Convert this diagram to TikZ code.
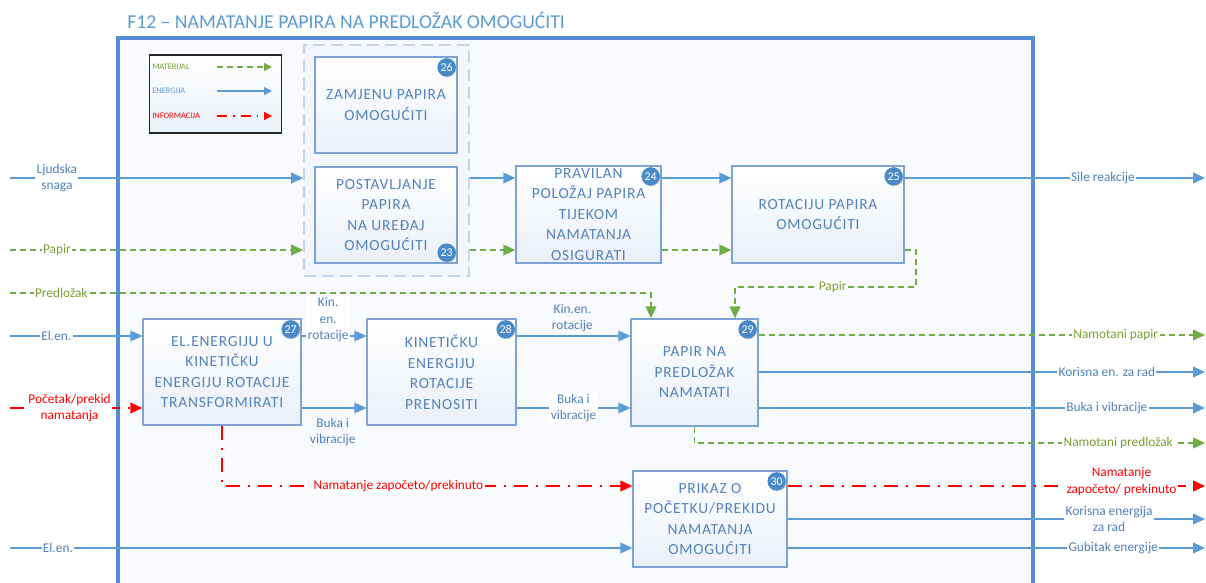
\documentclass[tikz,border=0pt]{standalone}
\usepackage{fontspec}
\setmainfont{Carlito}
\usetikzlibrary{arrows.meta, calc, positioning, shadows}
\definecolor{encol}{RGB}{91, 155, 213}
\definecolor{matcol}{RGB}{112, 173, 71}
\definecolor{infcol}{RGB}{255, 0, 0}
\definecolor{framecol}{RGB}{84, 141, 212}
\definecolor{boxline}{RGB}{124, 163, 212}
\definecolor{boxtext}{RGB}{84, 130, 190}
\definecolor{boxbot}{RGB}{234, 240, 248}
\definecolor{bgcol}{RGB}{248, 250, 253}
\definecolor{grpline}{RGB}{197, 213, 234}
\definecolor{grpfill}{RGB}{243, 246, 251}
\definecolor{badgecol}{RGB}{74, 137, 200}
\definecolor{titlecol}{RGB}{91, 155, 213}
\definecolor{enlbl}{RGB}{79, 129, 189}
\definecolor{matlbl}{RGB}{119, 160, 50}
\tikzset{
  title/.style  = {font=\fontsize{14}{16}\selectfont, text=titlecol,
                   inner sep=0pt},
  frame/.style  = {draw=framecol, line width=2.2pt},
  % Visio sets the function names loosely, hence the letter spacing
  fun/.style    = {draw=boxline, line width=0.9pt, top color=white,
                   bottom color=boxbot, align=center, text=boxtext,
                   font=\fontsize{11}{14.6}\selectfont
                        \addfontfeatures{LetterSpace=5},
                   inner sep=1pt},
  grp/.style    = {draw=grpline, line width=1.2pt,
                   dash pattern=on 3mm off 1.5mm, fill=grpfill},
  badge/.style  = {circle, fill=badgecol, text=white,
                   font=\fontsize{8.5}{9}\selectfont, minimum size=4.6mm,
                   inner sep=0pt,
                   drop shadow={opacity=0.3, shadow xshift=0.4pt,
                                shadow yshift=-0.6pt}},
  % the three kinds of flow, as the legend gives them
  energy/.style   = {draw=encol, line width=1pt,
                     -{Triangle[length=3mm, width=2.7mm]}},
  material/.style = {draw=matcol, line width=1pt,
                     dash pattern=on 1.5mm off 1mm,
                     -{Triangle[length=3mm, width=2.7mm]}},
  info/.style     = {draw=infcol, line width=1pt,
                     dash pattern=on 3.5mm off 2mm on 0.5mm off 2mm,
                     -{Triangle[length=3mm, width=2.7mm]}},
  lbl/.style    = {fill=white, inner sep=1pt, align=center,
                   font=\fontsize{9.5}{11.7}\selectfont},
  elbl/.style   = {lbl, text=enlbl},
  mlbl/.style   = {lbl, text=matlbl},
  ilbl/.style   = {lbl, text=infcol},
  legend/.style = {draw=black!85, line width=1pt, top color=white,
                   bottom color=boxbot, minimum width=3.3cm,
                   minimum height=1.95cm},
  lgtxt/.style  = {anchor=west, inner sep=0pt,
                   font=\fontsize{6}{7}\selectfont},
  lgtip/.style  = {line width=0.8pt, -{Triangle[length=2mm, width=2mm]}},
}

\begin{document}
\begin{tikzpicture}[x=0.025cm, y=-0.025cm]

  \useasboundingbox (0,0) rectangle (1206,583);

  %% ---------------- title and frame ----------------
  \node[title, anchor=west] (title) at (127,20)
       {F12 – NAMATANJE PAPIRA NA PREDLOŽAK OMOGUĆITI};
  \fill[bgcol] (118,38) rectangle (1033,583);
  \draw[frame] (118,583) -- (118,38) -- (1033,38) -- (1033,583);

  %% ---------------- legend ----------------
  \node[legend] (legend) at (215.5,94) {};
  \node[lgtxt, text=matlbl] (lgMat) at (152,67) {MATERIJAL};
  \node[lgtxt, text=encol]  (lgEn)  at (152,91) {ENERGIJA};
  \node[lgtxt, text=infcol] (lgInf) at (152,116) {INFORMACIJA};
  \coordinate (lgMatA) at (217,67);  \coordinate (lgMatB) at (272,67);
  \coordinate (lgEnA)  at (217,91);  \coordinate (lgEnB)  at (272,91);
  \coordinate (lgInfA) at (217,116); \coordinate (lgInfB) at (272,116);
  \draw[material, lgtip] (lgMatA) -- (lgMatB);
  \draw[energy, lgtip]   (lgEnA) -- (lgEnB);
  \draw[info, lgtip, dash pattern=on 2.5mm off 1.5mm on 0.4mm off 1.5mm]
       (lgInfA) -- (lgInfB);

  %% ---------------- functions ----------------
  \node[grp, minimum width=4.125cm, minimum height=5.775cm] (grp)
       at (386.5,160.5) {};
  \node[fun, minimum width=3.55cm, minimum height=2.4cm] (b26)
       at (386,105) {ZAMJENU PAPIRA\\OMOGUĆITI};
  \node[fun, minimum width=3.55cm, minimum height=2.4cm] (b23)
       at (386,215) {POSTAVLJANJE\\PAPIRA\\NA UREĐAJ\\OMOGUĆITI};
  \node[fun, minimum width=3.625cm, minimum height=2.425cm] (b24)
       at (588.5,214.5)
       {PRAVILAN\\POLOŽAJ PAPIRA\\TIJEKOM\\NAMATANJA\\OSIGURATI};
  \node[fun, minimum width=4.3cm, minimum height=2.425cm] (b25)
       at (818,214.5) {ROTACIJU PAPIRA\\OMOGUĆITI};
  \node[fun, minimum width=3.95cm, minimum height=2.65cm] (b27)
       at (222,372)
       {EL.ENERGIJU U\\KINETIČKU\\ENERGIJU ROTACIJE\\TRANSFORMIRATI};
  \node[fun, minimum width=3.725cm, minimum height=2.65cm] (b28)
       at (441.5,372) {KINETIČKU\\ENERGIJU\\ROTACIJE\\PRENOSITI};
  \node[fun, minimum width=3.175cm, minimum height=2.675cm] (b29)
       at (694.5,372.5) {PAPIR NA\\PREDLOŽAK\\NAMATATI};
  \node[fun, minimum width=3.85cm, minimum height=2.4cm] (b30)
       at (710,519)
       {PRIKAZ O\\POČETKU/PREKIDU\\NAMATANJA\\OMOGUĆITI};

  %% ---------------- loose ends ----------------
  \coordinate (inHum)    at (10,178);
  \coordinate (inPap)    at (10,250);
  \coordinate (inPred)   at (10,293);
  \coordinate (inEl)     at (10,336);
  \coordinate (inStart)  at (10,408);
  \coordinate (inElB)    at (10,548);
  \coordinate (outSile)  at (1205,178);
  \coordinate (outPapir) at (1205,335);
  \coordinate (outKor)   at (1205,372);
  \coordinate (outBuka)  at (1205,408);
  \coordinate (outPred)  at (1205,443);
  \coordinate (outInfo)  at (1205,486);
  \coordinate (outKorB)  at (1205,519);
  \coordinate (outGub)   at (1205,548);
  \coordinate (papBend)  at (916,287);
  \coordinate (b29inA)   at ($(b29.north)+(-43.5,0)$);
  \coordinate (b29inB)   at ($(b29.north)+(40.5,0)$);

  %% ---------------- upper row ----------------
  \draw[energy] (inHum) -- (inHum -| grp.west)
       node[elbl, pos=0.16] {Ljudska\\snaga};
  \draw[energy] (grp.east |- inHum) -- (b24.west |- inHum);
  \draw[energy] (b24.east |- inHum) -- (b25.west |- inHum);
  \draw[energy] (b25.east |- inHum) -- (outSile)
       node[elbl, pos=0.66] {Sile reakcije};
  \draw[material] (inPap) -- (inPap -| grp.west)
       node[mlbl, pos=0.16] {Papir};
  \draw[material] (grp.east |- inPap) -- (b24.west |- inPap);
  \draw[material] (b24.east |- inPap) -- (b25.west |- inPap);
  \draw[material] (b25.east |- inPap) -| (papBend) -- (papBend -| b29inB)
       node[mlbl, pos=0.46] {Papir} -- (b29inB);
  \draw[material] (inPred) -- (inPred -| b29inA)
       node[mlbl, pos=0.08] {Predložak} -- (b29inA);

  %% ---------------- drive row ----------------
  \draw[energy] (inEl) -- (b27.west |- inEl)
       node[elbl, pos=0.35] {El.en.};
  \draw[info] (inStart) -- (b27.west |- inStart)
       node[ilbl, pos=0.45] {Početak/prekid\\namatanja};
  \draw[energy] (b27.east |- inEl) -- (b28.west |- inEl)
       node[elbl, pos=0.41, yshift=4mm] {Kin.\\en.\\rotacije};
  \draw[energy] (b27.east |- inStart) -- (b28.west |- inStart)
       node[elbl, fill=none, pos=0.48, yshift=-6mm] {Buka i\\vibracije};
  \draw[energy] (b28.east |- inEl) -- (b29.west |- inEl)
       node[elbl, fill=none, pos=0.49, yshift=4.5mm] {Kin.en.\\rotacije};
  \draw[energy] (b28.east |- inStart) -- (b29.west |- inStart)
       node[elbl, pos=0.5] {Buka i\\vibracije};

  %% ---------------- outputs of 29 ----------------
  \draw[material] (b29.east |- outPapir) -- (outPapir)
       node[mlbl, pos=0.8] {Namotani papir};
  \draw[energy] (b29.east |- outKor) -- (outKor)
       node[elbl, pos=0.78] {Korisna en. za rad};
  \draw[energy] (b29.east |- outBuka) -- (outBuka)
       node[elbl, pos=0.78] {Buka i vibracije};
  \draw[material] (b29.south) -- (b29.south |- outPred) -- (outPred)
       node[mlbl, pos=0.83] {Namotani predložak};

  %% ---------------- signal row ----------------
  \draw[info] (b27.south) -- (b27.south |- outInfo) -- (b30.west |- outInfo)
       node[ilbl, pos=0.43] {Namatanje započeto/prekinuto};
  \draw[info] (b30.east |- outInfo) -- (outInfo)
       node[ilbl, pos=0.8, yshift=1.1mm] {Namatanje\\započeto/ prekinuto};
  \draw[energy] (b30.east |- outKorB) -- (outKorB)
       node[elbl, pos=0.77] {Korisna energija\\za rad};
  \draw[energy] (inElB) -- (b30.west |- inElB)
       node[elbl, pos=0.077] {El.en.};
  \draw[energy] (b30.east |- outGub) -- (outGub)
       node[elbl, pos=0.78] {Gubitak energije};

  %% ---------------- numbers ----------------
  \node[badge] (n26) at ($(b26.north east)+(-11,11)$) {26};
  \node[badge] (n23) at ($(b23.south east)+(-11,-11)$) {23};
  \node[badge] (n24) at ($(b24.north east)+(-11,11)$) {24};
  \node[badge] (n25) at ($(b25.north east)+(-11,11)$) {25};
  \node[badge] (n27) at ($(b27.north east)+(-11,11)$) {27};
  \node[badge] (n28) at ($(b28.north east)+(-11,11)$) {28};
  \node[badge] (n29) at ($(b29.north east)+(-11,11)$) {29};
  \node[badge] (n30) at ($(b30.north east)+(-11,11)$) {30};

\end{tikzpicture}
\end{document}
